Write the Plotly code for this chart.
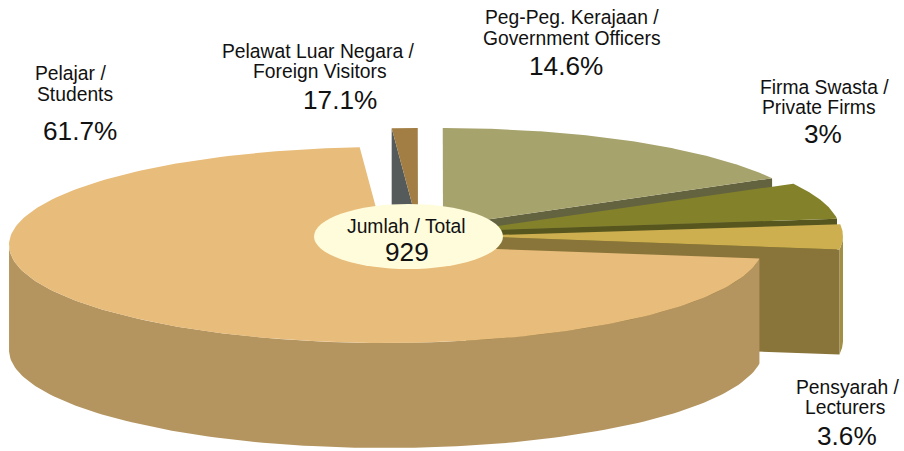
import numpy as np
import plotly.graph_objects as go

# Data
categories = ["Pelajar / Students", "Pelawat Luar Negara / Foreign Visitors",
              "Peg-Peg. Kerajaan / Government Officers", "Firma Swasta / Private Firms",
              "Pensyarah / Lecturers"]
percent_labels = ["61.7%", "17.1%", "14.6%", "3%", "3.6%"]
total_label = "929"
# Visual share of the pie as drawn, clockwise from the start angle (%)
drawn_slices = ["sliver", "olive", "dark olive", "yellow", "tan"]
drawn_share = [1.1, 16.9, 6.1, 4.2, 71.7]

# Geometry and style
W, H = 904, 451
START = 94.0
RX, RY, DEPTH = 377.0, 98.0, 105.0
apex = {"sliver": (418, 226), "olive": (443, 226), "dark olive": (463, 231),
        "yellow": (466, 236), "tan": (386, 245)}
top_col = {"sliver": "#A37E44", "olive": "#A7A36D", "dark olive": "#83822B",
           "yellow": "#CDAF4F", "tan": "#E8BC7A"}
rim_col = {"sliver": "#A37E44", "olive": "#7F7C4A", "dark olive": "#58561F",
           "yellow": "#A08F45", "tan": "#B49560"}
edge_col = {"sliver": "#555A5A", "olive": "#64633F", "dark olive": "#58561F",
            "yellow": "#89743A", "tan": "#B49560"}

fig = go.Figure()


def poly(x, y, color):
    fig.add_trace(go.Scatter(x=list(x), y=list(y), mode="lines", fill="toself",
                             fillcolor=color, line=dict(width=0), hoverinfo="skip",
                             showlegend=False))


angles = START - np.cumsum([0] + drawn_share) * 3.6
for i, name in enumerate(drawn_slices):
    t = np.radians(np.linspace(angles[i], angles[i + 1], 200))
    ax, ay = apex[name]
    ex = ax + RX * np.cos(t)
    ey = ay - RY * np.sin(t)
    if name == "sliver":
        # the far radial face, seen from the left
        poly([ax, ex[0], ex[0], ax], [ay, ey[0], ey[0] + DEPTH, ay + DEPTH], edge_col[name])
    else:
        front = ey >= ay
        if front.any():
            poly(np.r_[ex[front], ex[front][::-1]], np.r_[ey[front], ey[front][::-1] + DEPTH], rim_col[name])
        if name != "tan":
            poly([ax, ex[-1], ex[-1], ax], [ay, ey[-1], ey[-1] + DEPTH, ay + DEPTH], edge_col[name])
    poly(np.r_[ax, ex, ax], np.r_[ay, ey, ay], top_col[name])

# centre plate
fig.add_shape(type="circle", x0=314, x1=503, y0=204, y1=269,
              fillcolor="#FFFCDC", line=dict(width=0), layer="above")

FONT = "Liberation Sans, Helvetica, Arial, sans-serif"
small, big = 19.3, 26.2
texts = [
    ("Pelajar /", 70, 73, small), ("Students", 75, 94, small), (percent_labels[0], 80, 131, big),
    ("Pelawat Luar Negara /", 318, 51, small), ("Foreign Visitors", 320, 71, small), (percent_labels[1], 340, 100, big),
    ("Peg-Peg. Kerajaan /", 572, 17, small), ("Government Officers", 572, 38, small), (percent_labels[2], 566, 66, big),
    ("Firma Swasta /", 824, 87, small), ("Private Firms", 819, 107, small), (percent_labels[3], 823, 134, big),
    ("Pensyarah /", 848, 387, small), ("Lecturers", 845, 407, small), (percent_labels[4], 847, 436, big),
    ("Jumlah / Total", 406, 226, small), (total_label, 406.5, 252, big),
]
for s, x, y, size in texts:
    fig.add_annotation(x=x, y=y, text=s, showarrow=False, xanchor="center", yanchor="middle",
                       font=dict(family=FONT, size=size, color="#111111"))

fig.update_layout(width=W, height=H, margin=dict(l=0, r=0, t=0, b=0),
                  paper_bgcolor="white", plot_bgcolor="white", showlegend=False,
                  xaxis=dict(range=[0, W], visible=False, fixedrange=True),
                  yaxis=dict(range=[H, 0], visible=False, fixedrange=True))
fig.write_html("out.html", config={"displayModeBar": False},
               post_script="document.body.style.margin='0';document.body.style.overflow='hidden';")
